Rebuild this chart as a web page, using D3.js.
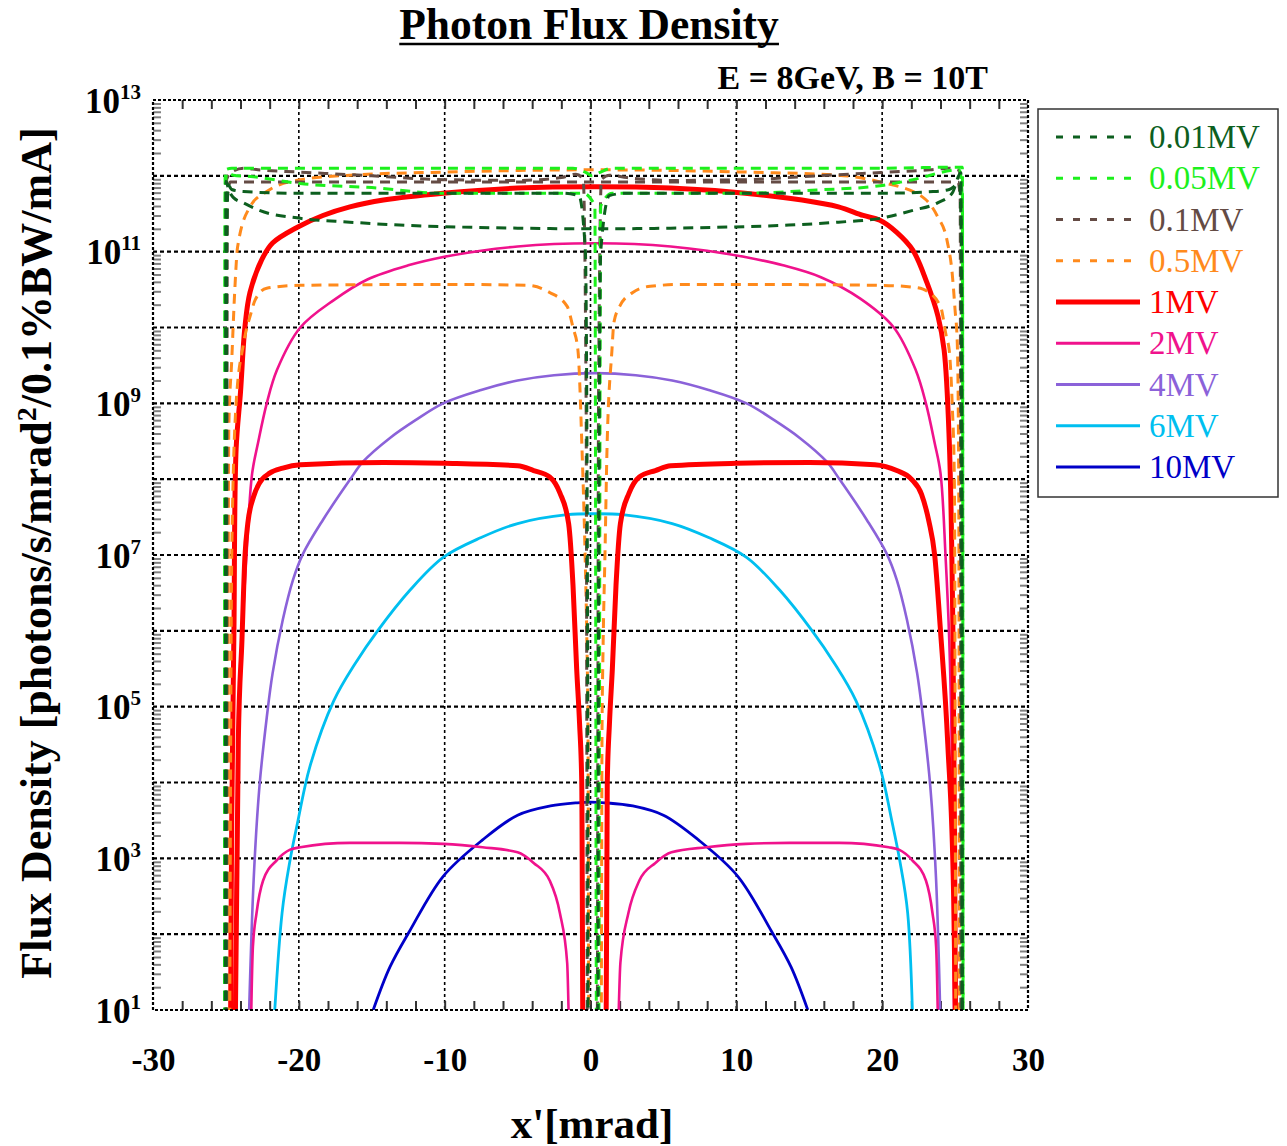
<!DOCTYPE html>
<html><head><meta charset="utf-8">
<script src="https://cdn.jsdelivr.net/npm/d3@7"></script>
<style>
body{margin:0;background:#fff}
svg{display:block}
text{font-family:"Liberation Serif","Times New Roman",serif}
</style>
</head><body>
<svg id="c" width="1287" height="1146"></svg>
<script>
// ---------------- DATA ----------------
const seriesLabels = ["0.01MV","0.05MV","0.1MV","0.5MV","1MV","2MV","4MV","6MV","10MV"];
const seriesColors = ["#0d5f1f","#1cf01c","#644b44","#ff8a1c","#ff0000","#f0128c","#8b62d9","#00bff0","#0000c8"];
const seriesDashed = [true,true,true,true,false,false,false,false,false];
const seriesWidth  = [3,3,3,3,5,2.6,2.6,2.8,2.8];

const xTicks = [-30,-20,-10,0,10,20,30];
const yTickPowers = [1,3,5,7,9,11,13];

// 0.01MV
const x001A = [-25.0,-24.95,-24.85,-24.6,-23.8,-20,-10,-2,-0.8,-0.35,-0.2,-0.15,0.5,0.55,0.7,1.3,2.5,10,20,23.5,24.6,25.3,25.45,25.5];
const v001A = [1,1e11,7.6e11,6.6e11,6.2e11,5.9e11,5.9e11,5.9e11,5.5e11,1e11,1e6,1,1,1e6,1e11,5.5e11,5.9e11,5.9e11,5.9e11,6.2e11,6.6e11,7.9e11,1e11,1];
const x001B = [-25.05,-25.0,-24.8,-24.5,-23.8,-22.7,-19.9,-16.5,-13.1,-10.1,-5,0.3,5.5,10.6,13.6,17,19.85,22.1,23.8,24.8,25.4,25.5];
const v001B = [1,8.5e11,6.5e11,5.2e11,4.4e11,3.5e11,2.75e11,2.45e11,2.24e11,2.14e11,2.04e11,2.0e11,2.04e11,2.14e11,2.24e11,2.45e11,2.75e11,3.5e11,4.4e11,5.9e11,1.1e12,1];
// 0.05MV
const x005A = [-25.1,-25.05,-24.6,-20,-10,-1.2,-0.3,0.1,0.6,1.5,10,20,25.0,25.5,25.55];
const v005A = [1,1.2e12,1.26e12,1.26e12,1.26e12,1.26e12,1.1e12,1.0e12,1.1e12,1.26e12,1.26e12,1.26e12,1.3e12,1.3e12,1];
const x005B = [-25.1,-25.05,-24.95,-24.5,-23.3,-19.9,-15,-10.1,-5,-0.5,0.3,0.42,0.55,0.7,1.5,5.5,10.6,15.5,19.85,22.1,25.3,25.5,25.55];
const v005B = [1,5e11,1.1e12,1.02e12,9.8e11,7.9e11,7.0e11,5.9e11,5.9e11,5.9e11,4e11,1,1,4e11,5.9e11,5.9e11,5.9e11,6.5e11,7.4e11,8.9e11,1.2e12,5e11,1];
// 0.1MV
const x01A = [-25.0,-24.95,-24.6,-23.8,-22.8,-19.9,-15,-10.1,-5,-2,-1.0,-0.5,-0.3,-0.2,0.45,0.55,0.75,1.3,2.5,5.5,10.6,15.5,20.4,23.3,24.5,25.2,25.4,25.45];
const v01A = [1,9e11,1.12e12,1.26e12,1.2e12,1.12e12,1.0e12,8.9e11,8.7e11,9.5e11,1.05e12,9e11,1e9,1,1,1e9,9e11,1.02e12,9.5e11,8.7e11,8.9e11,1.0e12,1.12e12,1.2e12,1.26e12,1.2e12,9e11,1];
const x01B = [-24.95,-24.9,-24.7,-20,-10,0,10,20,25.2,25.35,25.4];
const v01B = [1,5e11,8.3e11,8.3e11,8.3e11,8.3e11,8.3e11,8.3e11,8.3e11,5e11,1];
// 0.5MV
const x05A = [-24.9,-24.8,-24.6,-24.4,-24.2,-23.35,-22.2,-19.9,-16.5,-10.1,0.3,10.7,17.0,19.85,22.8,23.8,24.45,24.8,25.0,25.15,25.25,25.3];
const v05A = [1,4.9e8,3.7e9,2.9e10,1.15e11,3.9e11,6.2e11,8.9e11,1.02e12,1.12e12,1.2e12,1.12e12,1.02e12,8.3e11,5.2e11,2.9e11,1.4e11,5.2e10,1.7e10,6.3e9,1e8,1];
const x05B = [-24.75,-24.6,-24.3,-23.8,-23.3,-23.0,-22.2,-19.9,-10.1,-4.3,-2.8,-1.6,-1.2,-0.86,-0.58,-0.38,-0.24,-0.17,-0.1,0.72,0.79,0.86,1.0,1.13,1.47,1.6,2.0,2.9,4.1,6.4,10,19.85,22.1,22.8,24.0,24.4,24.6,24.8,24.95,25.05];
const v05B = [1,1e7,1e9,6e9,1.5e10,2.3e10,3.3e10,3.6e10,3.7e10,3.6e10,2.9e10,1.9e10,1e10,5e9,2.4e8,1.2e7,5.6e5,4.5e4,1,1,4.5e4,5.6e5,1.2e7,2.4e8,5e9,1.15e10,1.9e10,2.9e10,3.5e10,3.7e10,3.7e10,3.6e10,3.4e10,3.2e10,1.9e10,7.6e9,5e9,1e9,1e8,1];
// 1MV
const x1A = [-24.7,-24.6,-24.45,-24.3,-24.0,-23.7,-23.35,-22.55,-21.8,-20.1,-18.35,-16.5,-14.2,-10.1,-5.0,0.3,5.5,10.6,14.5,17.0,18.7,19.85,21.0,22.1,23.07,23.83,24.25,24.6,24.85,25.05];
const v1A = [1,3.5e3,1e6,2.5e8,1.4e9,1e10,2.9e10,7.8e10,1.3e11,2.1e11,3.0e11,3.9e11,4.8e11,5.9e11,6.9e11,7.2e11,6.9e11,5.9e11,4.8e11,3.9e11,3.0e11,2.6e11,1.8e11,1.05e11,3.9e10,1.4e10,5e9,3.2e8,1e6,1];
const x1B = [-24.4,-24.15,-23.9,-23.7,-23.5,-23.1,-22.7,-22.0,-21.1,-19.9,-14.2,-10,-5,-3.9,-2.8,-2.1,-1.5,-1.2,-0.95,-0.75,-0.6,-0.5,1.05,1.15,1.3,1.5,1.75,2.05,2.65,3.35,4.45,5.5,10,15,19.5,21.0,22.0,22.7,23.2,23.6,24.0,24.5,24.9,25.1];
const v1B = [1,3.6e4,7.6e5,9.3e6,2.6e7,5.9e7,8.9e7,1.2e8,1.4e8,1.55e8,1.66e8,1.62e8,1.5e8,1.3e8,1.07e8,6.6e7,2.6e7,4e6,3.2e5,6e4,1e4,1,1,1e4,6e4,3.2e5,4e6,2.6e7,6.6e7,1.07e8,1.3e8,1.5e8,1.62e8,1.66e8,1.55e8,1.3e8,1e8,6.3e7,2.8e7,1e7,1e6,3.2e4,3.2e2,1];
// 2MV
const x2A = [-24.45,-24.2,-23.9,-23.6,-23.2,-22.8,-22.2,-21.5,-19.9,-17.6,-15.3,-12.5,-10.1,-7.5,-5.0,-2.5,0.4,3.0,5.5,8.0,10.6,13.2,15.8,18.5,20.8,22.3,23.0,23.6,24.0,24.35,24.6,24.8,24.95];
const v2A = [1,1.3e4,7.6e5,9.3e6,1.2e8,3e8,1e9,2.75e9,1e10,2.3e10,4.3e10,6.6e10,8.5e10,1.03e11,1.17e11,1.26e11,1.29e11,1.26e11,1.17e11,1.03e11,8.5e10,6.6e10,4.6e10,2.4e10,1e10,2.75e9,1e9,3e8,1.2e8,9.3e6,7.6e5,1.3e4,1];
const x2B = [-23.35,-23.15,-22.9,-22.45,-21.5,-20.6,-19.9,-16.5,-13.1,-10.1,-7.4,-5.0,-3.9,-2.8,-2.1,-1.6,-1.35,1.75,2.05,2.6,3.35,4.45,5.55,7.95,10.65,13.65,17.05,20.45,21.15,22.05,23.0,23.45,23.7,23.9];
const v2B = [1,68,190,510,950,1300,1400,1600,1600,1550,1400,1200,870,510,190,42,1,1,42,190,510,870,1200,1400,1550,1600,1600,1400,1300,950,510,190,68,1];
// 4MV
const x4 = [-23.55,-23.1,-22.7,-22.2,-21.8,-21.1,-20.4,-19.7,-18.35,-16.5,-15.6,-13.75,-12.0,-10.1,-7.5,-5.0,-2.5,0.3,3.1,5.6,8.1,10.7,12.6,14.35,16.2,17.1,18.95,20.3,21.0,21.7,22.4,22.8,23.3,23.7,24.1];
const v4 = [1,510,8.9e3,7.2e4,2.75e5,1.4e6,4.7e6,1.05e7,2.9e7,9.8e7,1.7e8,3.5e8,6e8,1e9,1.5e9,2.0e9,2.35e9,2.5e9,2.35e9,2.0e9,1.5e9,1e9,6e8,3.5e8,1.7e8,9.8e7,2.9e7,1.05e7,4.7e6,1.4e6,2.75e5,7.2e4,8.9e3,510,1];
// 6MV
const x6 = [-21.95,-21.15,-20.6,-20.05,-19.25,-17.6,-16.1,-14.6,-12.4,-10.1,-7.5,-5.0,-1.6,0.3,2.2,5.6,8.1,10.7,13.0,15.2,16.7,18.2,19.85,20.65,21.2,21.75,22.2];
const v6 = [1,190,950,3.2e3,1.6e4,1.2e5,3.8e5,1e6,3.4e6,9.3e6,1.7e7,2.6e7,3.4e7,3.5e7,3.4e7,2.6e7,1.7e7,9.3e6,3.4e6,1e6,3.8e5,1.2e5,1.6e4,3.2e3,950,190,1];
// 10MV
const x10 = [-14.9,-13.75,-12.4,-10.1,-7.4,-5.0,-2.75,-0.9,0.0,1.0,2.9,5.0,7.4,10.1,12.4,13.75,14.9];
const v10 = [10,37,110,580,1750,3700,4900,5400,5500,5400,4900,3700,1750,580,110,37,10];

// series index -> curves (drawing order: back to front); smooth = rounded spline
const curves = [
  {k:8, xs:x10, vs:v10, smooth:true},
  {k:7, xs:x6, vs:v6, smooth:true},
  {k:6, xs:x4, vs:v4, smooth:true},
  {k:5, xs:x2A, vs:v2A, smooth:true}, {k:5, xs:x2B, vs:v2B},
  {k:4, xs:x1A, vs:v1A, smooth:true}, {k:4, xs:x1B, vs:v1B},
  {k:3, xs:x05A, vs:v05A}, {k:3, xs:x05B, vs:v05B},
  {k:2, xs:x01A, vs:v01A}, {k:2, xs:x01B, vs:v01B},
  {k:1, xs:x005A, vs:v005A}, {k:1, xs:x005B, vs:v005B},
  {k:0, xs:x001A, vs:v001A}, {k:0, xs:x001B, vs:v001B}
];

// ---------------- CHART ----------------
const svg = d3.select("#c");
const L = 153, R = 1028, T = 100, B = 1010;
const x = d3.scaleLinear().domain([-30,30]).range([L,R]);
const y = d3.scaleLog().domain([1e1,1e13]).range([B,T]);

svg.append("defs").append("clipPath").attr("id","clip")
  .append("rect").attr("x",L).attr("y",T).attr("width",R-L).attr("height",B-T);

// grid
const decades = d3.range(2,13).map(p=>Math.pow(10,p));
svg.append("g").selectAll("line").data(decades).join("line")
  .attr("x1",L).attr("x2",R).attr("y1",d=>y(d)).attr("y2",d=>y(d))
  .attr("stroke","#000").attr("stroke-width",2.2).attr("stroke-dasharray","4,3");
svg.append("g").selectAll("line").data([-20,-10,0,10,20]).join("line")
  .attr("y1",T).attr("y2",B).attr("x1",d=>x(d)).attr("x2",d=>x(d))
  .attr("stroke","#000").attr("stroke-width",1.6).attr("stroke-dasharray","3,3");

// minor ticks
const minors = [];
for (let p=1;p<13;p++) for (let m=2;m<=9;m++) minors.push(m*Math.pow(10,p));
const xMinor = d3.range(-28,30,2);
function styleTicks(g, col){ g.select(".domain").remove(); g.selectAll(".tick line").attr("stroke",col).attr("stroke-width",2); g.selectAll(".tick text").remove(); }
svg.append("g").attr("transform",`translate(${L},0)`).call(d3.axisRight(y).tickValues(minors).tickSize(8).tickFormat("")).call(g=>styleTicks(g,"#808080"));
svg.append("g").attr("transform",`translate(${R},0)`).call(d3.axisLeft(y).tickValues(minors).tickSize(8).tickFormat("")).call(g=>styleTicks(g,"#808080"));
svg.append("g").attr("transform",`translate(0,${T})`).call(d3.axisBottom(x).tickValues(xMinor).tickSize(9).tickFormat("")).call(g=>styleTicks(g,"#333"));
svg.append("g").attr("transform",`translate(0,${B})`).call(d3.axisTop(x).tickValues(xMinor).tickSize(9).tickFormat("")).call(g=>styleTicks(g,"#333"));

// curves
const gC = svg.append("g").attr("clip-path","url(#clip)");
const lineM = d3.line().x(d=>x(d[0])).y(d=>y(Math.max(d[1],0.01))).curve(d3.curveMonotoneX);
const lineS = d3.line().x(d=>x(d[0])).y(d=>y(Math.max(d[1],0.01))).curve(d3.curveCatmullRom.alpha(0.5));
curves.forEach(c=>{
  const pts = c.xs.map((xv,i)=>[xv,c.vs[i]]);
  gC.append("path").attr("d",(c.smooth?lineS:lineM)(pts)).attr("fill","none")
    .attr("stroke",seriesColors[c.k]).attr("stroke-width",seriesWidth[c.k])
    .attr("stroke-dasharray",seriesDashed[c.k]?"10,7":null)
    .attr("stroke-linejoin","round");
});

// frame
svg.append("rect").attr("x",L).attr("y",T).attr("width",R-L).attr("height",B-T)
  .attr("fill","none").attr("stroke","#000").attr("stroke-width",2.2).attr("stroke-dasharray","3,2");

// x axis labels
svg.append("g").attr("transform",`translate(0,${B})`)
  .call(d3.axisBottom(x).tickValues(xTicks).tickSize(0).tickPadding(38).tickFormat(d=>String(d)))
  .call(g=>{g.select(".domain").remove();
    g.selectAll("text").attr("font-size",33).attr("font-weight","bold").attr("fill","#000")
     .style("font-family","'Liberation Serif',serif");});

// y axis labels with superscripts
const yAx = svg.append("g").attr("transform",`translate(${L},0)`)
  .call(d3.axisLeft(y).tickValues(yTickPowers.map(p=>Math.pow(10,p))).tickSize(0).tickPadding(12).tickFormat(()=>""));
yAx.select(".domain").remove();
yAx.selectAll(".tick text").each(function(d){
  const t = d3.select(this).attr("font-size",35).attr("font-weight","bold").attr("fill","#000")
    .attr("text-anchor","end").attr("dy",null).attr("y",12).style("font-family","'Liberation Serif',serif");
  t.text(null);
  t.append("tspan").text("10");
  t.append("tspan").attr("dy",-14).attr("font-size",21).text(String(Math.round(Math.log10(d))));
});

// titles
const title = svg.append("text").attr("x",589).attr("y",39).attr("text-anchor","middle")
  .attr("font-size",43.5).attr("font-weight","bold").text("Photon Flux Density");
const bb = title.node().getBBox();
svg.append("line").attr("x1",bb.x).attr("x2",bb.x+bb.width).attr("y1",44).attr("y2",44)
  .attr("stroke","#000").attr("stroke-width",2.5);
svg.append("text").attr("x",988).attr("y",89).attr("text-anchor","end")
  .attr("font-size",34).attr("font-weight","bold").text("E = 8GeV, B = 10T");
svg.append("text").attr("x",592).attr("y",1138).attr("text-anchor","middle")
  .attr("font-size",43).attr("font-weight","bold").text("x'[mrad]");
const yt = svg.append("text").attr("transform","translate(51,553) rotate(-90)").attr("text-anchor","middle")
  .attr("font-size",44).attr("font-weight","bold");
yt.append("tspan").text("Flux Density [photons/s/mrad");
yt.append("tspan").attr("dy",-15).attr("font-size",28).text("2");
yt.append("tspan").attr("dy",15).text("/0.1%BW/mA]");

// legend
const lg = svg.append("g");
lg.append("rect").attr("x",1038).attr("y",109).attr("width",240).attr("height",388)
  .attr("fill","#fff").attr("stroke","#333").attr("stroke-width",1.5);
seriesLabels.forEach((lab,i)=>{
  const cy = 137 + i*41.25;
  lg.append("line").attr("x1",1056).attr("x2",1140).attr("y1",cy).attr("y2",cy)
    .attr("stroke",seriesColors[i]).attr("stroke-width",seriesDashed[i]?3:(i===4?5:3))
    .attr("stroke-dasharray",seriesDashed[i]?"7,10":null);
  lg.append("text").attr("x",1149).attr("y",cy+11).attr("font-size",33)
    .attr("fill",seriesColors[i]).text(lab);
});
</script>
</body></html>
